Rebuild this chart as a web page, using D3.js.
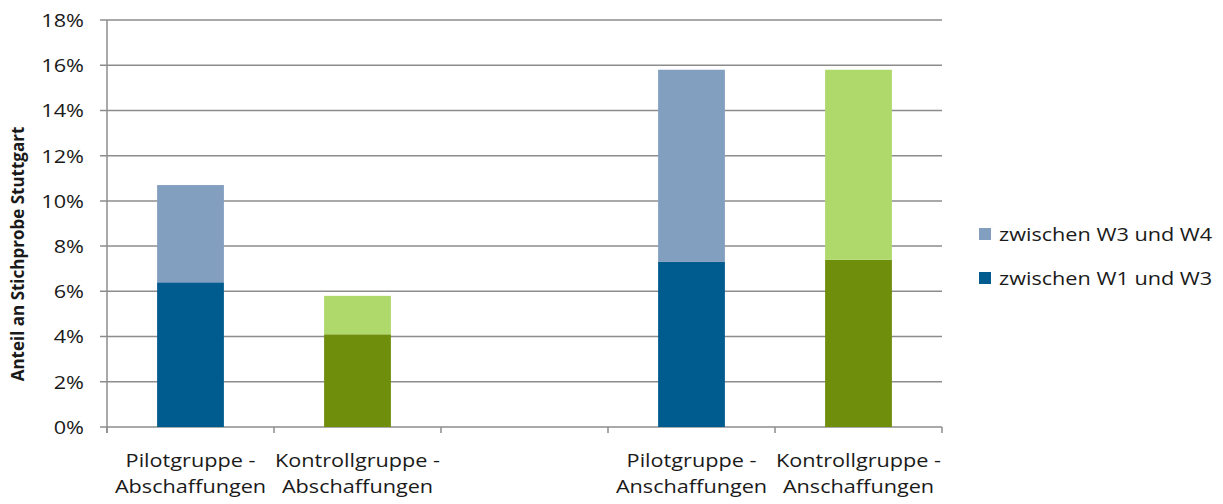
<!DOCTYPE html>
<html><head><meta charset="utf-8">
<script src="https://cdn.jsdelivr.net/npm/d3@7"></script>
<style>body{margin:0;background:#fff;} text{font-family:"Open Sans",sans-serif;fill:#1a1a1a;}</style>
</head><body>
<svg id="c" width="1223" height="504"></svg>
<script>
const categories = ["Pilotgruppe - Abschaffungen", "Kontrollgruppe - Abschaffungen", "", "Pilotgruppe - Anschaffungen", "Kontrollgruppe - Anschaffungen"];
const labelLines = [["Pilotgruppe -","Abschaffungen"],["Kontrollgruppe -","Abschaffungen"],[],["Pilotgruppe -","Anschaffungen"],["Kontrollgruppe -","Anschaffungen"]];
const w1w3 = [6.4, 4.1, null, 7.3, 7.4];
const w3w4 = [4.3, 1.7, null, 8.5, 8.4];
const darkColors = ["#005b8f", "#6f8e0c", null, "#005b8f", "#6f8e0c"];
const lightColors = ["#839fbf", "#b0d96b", null, "#839fbf", "#b0d96b"];
const yTicks = [0,2,4,6,8,10,12,14,16,18];
const legendLabels = ["zwischen W3 und W4", "zwischen W1 und W3"];
const legendColors = ["#839fbf", "#005b8f"];

(function(){
const svg = d3.select("#c");
const mLeft = 107, mRight = 942, mTop = 20, mBottom = 427;
const sx = 1.14, fs = 19;
const x = d3.scaleBand().domain(d3.range(categories.length)).range([mLeft, mRight]).paddingInner(0.6).paddingOuter(0.3);
const slot = d3.scaleBand().domain(d3.range(categories.length)).range([mLeft, mRight]);
const y = d3.scaleLinear().domain([0, 18]).range([mBottom, mTop]);
const grid = "#8c8c8c";

svg.append("g").selectAll("line").data(yTicks).join("line")
  .attr("x1", mLeft - 7).attr("x2", mRight).attr("y1", d => y(d)).attr("y2", d => y(d))
  .attr("stroke", grid).attr("stroke-width", 1.5);
svg.append("line").attr("x1", mLeft).attr("x2", mLeft).attr("y1", mTop).attr("y2", mBottom + 6).attr("stroke", grid).attr("stroke-width", 1.5);
const bounds = d3.range(categories.length + 1).map(i => mLeft + i * slot.bandwidth());
svg.append("g").selectAll("line").data(bounds).join("line")
  .attr("x1", d => d).attr("x2", d => d).attr("y1", mBottom).attr("y2", mBottom + 6)
  .attr("stroke", grid).attr("stroke-width", 1.5);

svg.append("g").selectAll("text").data(yTicks).join("text")
  .attr("transform", d => `translate(84,${y(d)}) scale(${sx},1)`).attr("dy", "0.36em").attr("text-anchor", "end")
  .attr("font-size", fs).text(d => d + "%");

const idx = d3.range(categories.length).filter(i => w1w3[i] != null);
svg.append("g").selectAll("rect").data(idx).join("rect")
  .attr("x", i => x(i)).attr("width", x.bandwidth())
  .attr("y", i => y(w1w3[i])).attr("height", i => y(0) - y(w1w3[i]))
  .attr("fill", i => darkColors[i]);
svg.append("g").selectAll("rect").data(idx).join("rect")
  .attr("x", i => x(i)).attr("width", x.bandwidth())
  .attr("y", i => y(w1w3[i] + w3w4[i])).attr("height", i => y(w1w3[i]) - y(w1w3[i] + w3w4[i]))
  .attr("fill", i => lightColors[i]);

const xl = svg.append("g").selectAll("text").data(d3.range(categories.length)).join("text")
  .attr("transform", i => `translate(${slot(i) + slot.bandwidth() / 2},0) scale(${sx},1)`)
  .attr("text-anchor", "middle").attr("font-size", fs);
xl.each(function(i) {
  d3.select(this).selectAll("tspan").data(labelLines[i]).join("tspan")
    .attr("x", 0).attr("y", (d, k) => 467 + k * 26).text(d => d);
});

svg.append("text").attr("transform", "translate(24,254) rotate(-90)").attr("text-anchor", "middle")
  .attr("font-size", 17).attr("font-weight", "bold").text("Anteil an Stichprobe Stuttgart");

const lg = svg.append("g").selectAll("g").data(legendLabels).join("g")
  .attr("transform", (d, k) => `translate(979,${228 + k * 44})`);
lg.append("rect").attr("width", 12).attr("height", 12).attr("fill", (d, k) => legendColors[k]);
lg.append("text").attr("transform", `translate(20,6) scale(${sx},1)`).attr("dy", "0.36em").attr("font-size", fs).text(d => d);
})();
</script>
</body></html>
